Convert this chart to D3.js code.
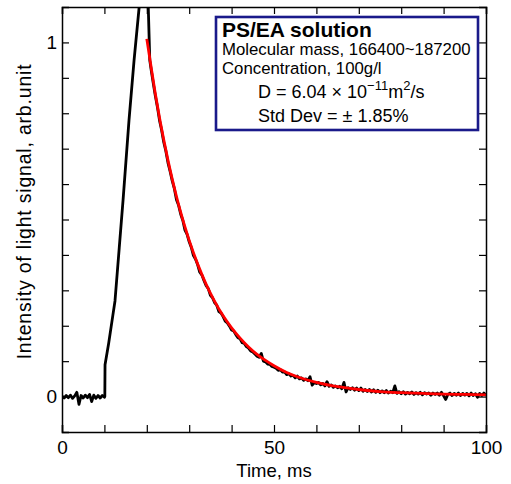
<!DOCTYPE html>
<html>
<head>
<meta charset="utf-8">
<script src="https://cdn.jsdelivr.net/npm/d3@7"></script>
<style>
  body { margin: 0; background: #fff; }
  text { font-family: "Liberation Sans", Arial, sans-serif; }
</style>
</head>
<body>
<div id="chart"></div>
<script>
// Chart data
const xTicks = [0, 10, 20, 30, 40, 50, 60, 70, 80, 90, 100];
const xLabels = [0, 50, 100];
const yTicks = [0, 0.1, 0.2, 0.3, 0.4, 0.5, 0.6, 0.7, 0.8, 0.9, 1.0];
const yLabels = [0, 1];

// measured signal: baseline, rising edge, peak (off the top)
const signalStart = [
  [0, 0.002], [0.5, -0.004], [1, 0.003], [1.5, -0.003], [2, 0.004], [2.5, -0.005],
  [3, 0.002], [3.5, 0.012], [4, -0.022], [4.5, 0.003], [5, -0.004], [5.5, 0.004],
  [6, -0.003], [6.5, 0.006], [7, -0.014], [7.5, 0.004], [8, -0.005], [8.5, 0.003],
  [9, -0.004], [9.5, 0.003], [10, -0.002], [10.1, 0.0], [10.15, 0.09], [11, 0.15],
  [12, 0.23], [12.5, 0.27], [13.5, 0.42], [14.4, 0.555], [15.8, 0.78], [17, 0.95],
  [18.2, 1.1], [19, 1.2], [19.8, 1.26], [20.3, 1.12], [20.7, 0.95]
];

// measured signal: decay part
const signalDecay = [
  [21, 0.925], [21.5, 0.887], [22, 0.850], [22.5, 0.818], [23, 0.780], [23.5, 0.752],
  [24, 0.718], [24.5, 0.693], [25, 0.660], [25.5, 0.636], [26, 0.609], [26.5, 0.587],
  [27, 0.556], [27.5, 0.540], [28, 0.515], [28.5, 0.497], [29, 0.470], [29.5, 0.458],
  [30, 0.437], [30.5, 0.421], [31, 0.398], [31.5, 0.388], [32, 0.372], [32.5, 0.351],
  [33, 0.343], [33.5, 0.327], [34, 0.313], [34.5, 0.305], [35, 0.286], [35.5, 0.279],
  [36, 0.265], [36.5, 0.258], [37, 0.240], [37.5, 0.236], [38, 0.226], [38.5, 0.213],
  [39, 0.208], [39.5, 0.199], [40, 0.188], [40.5, 0.185], [41, 0.175], [41.5, 0.166],
  [42, 0.163], [42.5, 0.152], [43, 0.150], [43.5, 0.141], [44, 0.137], [44.5, 0.129],
  [45, 0.126], [45.5, 0.120], [46, 0.114], [46.5, 0.111], [47, 0.122], [47.5, 0.100],
  [48, 0.098], [48.5, 0.092], [49, 0.091], [49.5, 0.085], [50, 0.083], [50.5, 0.080],
  [51, 0.074], [51.5, 0.076], [52, 0.069], [52.5, 0.070], [53, 0.062], [53.5, 0.065],
  [54, 0.058], [54.5, 0.060], [55, 0.053], [55.5, 0.058], [56, 0.050], [56.5, 0.053],
  [57, 0.046], [57.5, 0.050], [58, 0.045], [58.5, 0.056], [59, 0.032], [59.5, 0.040],
  [60, 0.037], [60.5, 0.040], [61, 0.033], [61.5, 0.037], [62, 0.030], [62.5, 0.042],
  [63, 0.029], [63.5, 0.033], [64, 0.026], [64.5, 0.030], [65, 0.025], [65.5, 0.029],
  [66, 0.022], [66.5, 0.040], [67, 0.013], [67.5, 0.025], [68, 0.020], [68.5, 0.025],
  [69, 0.018], [69.5, 0.024], [70, 0.017], [70.5, 0.024], [71, 0.015], [71.5, 0.020],
  [72, 0.014], [72.5, 0.020], [73, 0.013], [73.5, 0.019], [74, 0.012], [74.5, 0.018],
  [75, 0.011], [75.5, 0.016], [76, 0.011], [76.5, 0.017], [77, 0.010], [77.5, 0.015],
  [78, 0.011], [78.5, 0.030], [79, 0.009], [79.5, 0.014], [80, 0.008], [80.5, 0.014],
  [81, 0.007], [81.5, 0.012], [82, 0.008], [82.5, 0.013], [83, 0.006], [83.5, 0.011],
  [84, 0.007], [84.5, 0.012], [85, 0.005], [85.5, 0.011], [86, 0.007], [86.5, 0.010],
  [87, 0.004], [87.5, 0.010], [88, 0.006], [88.5, 0.010], [89, 0.004], [89.5, 0.012],
  [90, 0.002], [90.5, -0.008], [91, 0.006], [91.5, 0.010], [92, 0.003], [92.5, 0.009],
  [93, 0.004], [93.5, 0.010], [94, 0.003], [94.5, 0.009], [95, 0.004], [95.5, 0.009],
  [96, 0.002], [96.5, 0.010], [97, 0.003], [97.5, 0.008], [98, -0.002], [98.5, 0.009],
  [99, 0.003], [99.5, 0.010], [100, 0.004]
];

// fitted curve (red)
const fitCurve = [
  [20, 1.010], [21, 0.932], [22, 0.856], [23, 0.787], [24, 0.725], [25, 0.667],
  [26, 0.614], [27, 0.565], [28, 0.520], [29, 0.479], [30, 0.441], [32, 0.374],
  [34, 0.317], [36, 0.269], [38, 0.228], [40, 0.194], [42, 0.165], [44, 0.140],
  [46, 0.119], [48, 0.102], [50, 0.087], [53, 0.068], [56, 0.054], [60, 0.040],
  [65, 0.028], [70, 0.020], [75, 0.014], [80, 0.011], [85, 0.009], [90, 0.007],
  [95, 0.006], [100, 0.005]
];

const margin = { top: 7, right: 25, bottom: 52, left: 62 },
      width = 511 - margin.left - margin.right,
      height = 484 - margin.top - margin.bottom;

const svg = d3.select("#chart").append("svg")
              .attr("width", 511)
              .attr("height", 484);

const g = svg.append("g")
             .attr("transform", `translate(${margin.left},${margin.top})`);

const x = d3.scaleLinear().domain([0, 100]).range([0, width]);
const y = d3.scaleLinear().domain([-0.1, 1.1]).range([height, 0]);

g.append("clipPath").attr("id", "plotClip")
 .append("rect").attr("width", width).attr("height", height);

const line = d3.line()
               .x(d => x(d[0]))
               .y(d => y(d[1]));

const plot = g.append("g").attr("clip-path", "url(#plotClip)");

plot.append("path")
    .datum(signalStart.concat(signalDecay))
    .attr("fill", "none")
    .attr("stroke", "#000")
    .attr("stroke-width", 2.8)
    .attr("stroke-linejoin", "round")
    .attr("d", line);

plot.append("path")
    .datum(fitCurve)
    .attr("fill", "none")
    .attr("stroke", "#ff0000")
    .attr("stroke-width", 2.8)
    .attr("d", line.curve(d3.curveMonotoneX));

// Axes, ticks pointing inward
const fmtX = d => xLabels.includes(d) ? d : "";
const fmtY = d => yLabels.includes(d) ? d : "";

g.append("g")
   .attr("transform", `translate(0,${height})`)
   .call(d3.axisBottom(x).tickValues(xTicks).tickSize(-7).tickPadding(9).tickFormat(fmtX));
g.append("g")
   .call(d3.axisTop(x).tickValues(xTicks).tickSize(-7).tickFormat(""));
g.append("g")
   .call(d3.axisLeft(y).tickValues(yTicks).tickSize(-7).tickPadding(5).tickFormat(fmtY));
g.append("g")
   .attr("transform", `translate(${width},0)`)
   .call(d3.axisRight(y).tickValues(yTicks).tickSize(-7).tickFormat(""));

g.selectAll(".domain").attr("stroke", "#000").attr("stroke-width", 1.5);
g.selectAll(".tick line").attr("stroke", "#000").attr("stroke-width", 1.2);
g.selectAll(".tick text")
 .attr("font-family", "'Liberation Sans', Arial, sans-serif")
 .attr("font-size", 19)
 .attr("fill", "#000");

// Axis titles
g.append("text")
 .attr("x", width / 2)
 .attr("y", height + 45)
 .attr("text-anchor", "middle")
 .attr("font-size", 18.5)
 .text("Time, ms");

g.append("text")
 .attr("transform", `translate(-31,${height / 2 - 8}) rotate(-90)`)
 .attr("text-anchor", "middle")
 .attr("font-size", 19.5)
 .attr("letter-spacing", 0.8)
 .text("Intensity of light signal, arb.unit");

// Legend box
const box = svg.append("g").attr("transform", "translate(216,17)");
box.append("rect")
   .attr("width", 262)
   .attr("height", 113)
   .attr("fill", "#fff")
   .attr("stroke", "#1a1a8a")
   .attr("stroke-width", 2.6);

box.append("text").attr("x", 6).attr("y", 20)
   .attr("font-size", 21).attr("font-weight", "bold")
   .text("PS/EA solution");
box.append("text").attr("x", 6).attr("y", 38)
   .attr("font-size", 16.8)
   .text("Molecular mass, 166400~187200");
box.append("text").attr("x", 6).attr("y", 57)
   .attr("font-size", 16.8)
   .text("Concentration, 100g/l");

const dLine = box.append("text").attr("x", 42).attr("y", 81).attr("font-size", 18);
dLine.append("tspan").text("D = 6.04 \u00d7 10");
dLine.append("tspan").attr("dy", -8).attr("font-size", 13).text("\u221211");
dLine.append("tspan").attr("dy", 8).text("m");
dLine.append("tspan").attr("dy", -8).attr("font-size", 13).text("2");
dLine.append("tspan").attr("dy", 8).text("/s");

box.append("text").attr("x", 42).attr("y", 105)
   .attr("font-size", 18)
   .text("Std Dev = \u00b1 1.85%");
</script>
</body>
</html>
